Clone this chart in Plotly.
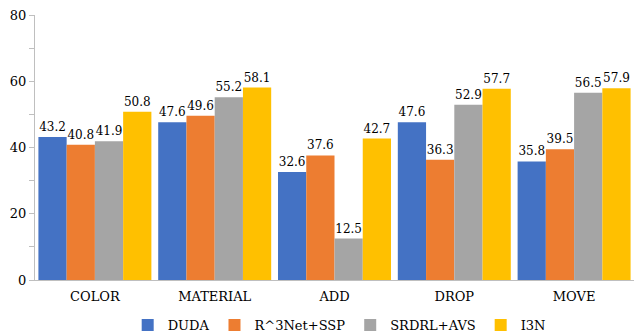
import plotly.graph_objects as go

categories = ["COLOR", "MATERIAL", "ADD", "DROP", "MOVE"]
series_names = ["DUDA", "R^3Net+SSP", "SRDRL+AVS", "I3N"]
duda = [43.2, 47.6, 32.6, 47.6, 35.8]
r3net = [40.8, 49.6, 37.6, 36.3, 39.5]
srdrl = [41.9, 55.2, 12.5, 52.9, 56.5]
i3n = [50.8, 58.1, 42.7, 57.7, 57.9]
colors = ["#4472C4", "#ED7D31", "#A5A5A5", "#FFC000"]

FONT = "DejaVu Serif"

fig = go.Figure()
for name, vals, c in zip(series_names, [duda, r3net, srdrl, i3n], colors):
    fig.add_trace(go.Bar(
        x=categories, y=vals, name=name, marker_color=c, marker_line_width=0,
        text=[f"{v:.1f}" for v in vals], textposition="outside",
        textfont=dict(family=FONT, size=12, color="#000"),
        cliponaxis=False,
    ))

fig.update_layout(
    width=634, height=334,
    margin=dict(l=35, r=0, t=15, b=54),
    barmode="group", bargap=0.057, bargroupgap=0,
    plot_bgcolor="white", paper_bgcolor="white",
    font=dict(family=FONT, size=13, color="#000"),
    showlegend=True,
    legend=dict(orientation="h", x=0.535, xanchor="center", xref="container",
                y=0.027, yanchor="middle", yref="container", itemwidth=30,
                font=dict(family=FONT, size=13), traceorder="normal"),
    xaxis=dict(range=[-0.5, 4.5], showline=True, linecolor="#BFBFBF", linewidth=1, ticks="",
               ticklabelstandoff=4, tickfont=dict(family=FONT, size=13)),
    yaxis=dict(range=[0, 80], dtick=20, showline=True, linecolor="#BFBFBF", linewidth=1,
               ticks="outside", ticklen=5, tickcolor="#BFBFBF", showgrid=False,
               zeroline=False, tickfont=dict(family=FONT, size=13),
               minor=dict(dtick=10, ticks="outside", ticklen=5, tickcolor="#BFBFBF", showgrid=False)),
)
fig.write_html("out.html")
